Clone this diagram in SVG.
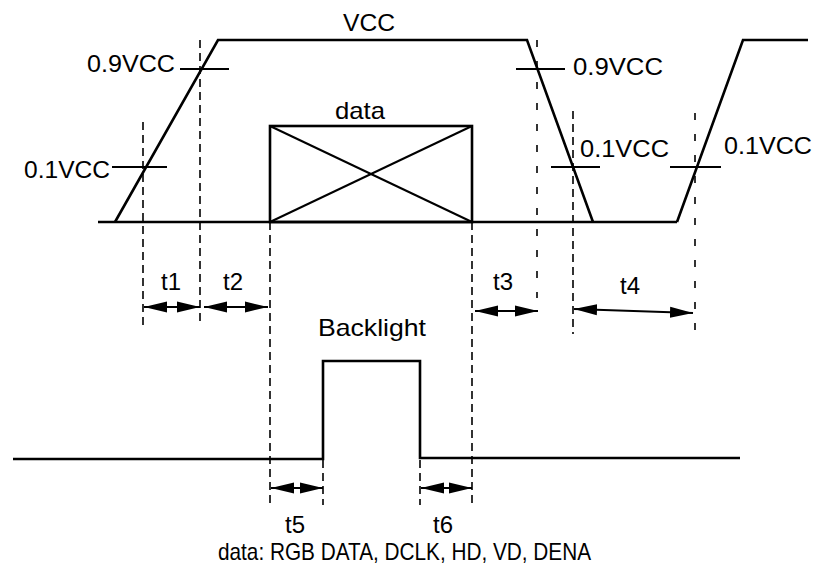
<svg xmlns="http://www.w3.org/2000/svg" width="815" height="574" viewBox="0 0 815 574">
<style>
.w{fill:none;stroke:#000;stroke-width:2.6;stroke-linejoin:miter}
.tk{fill:none;stroke:#000;stroke-width:2}
.d{fill:none;stroke:#000;stroke-width:1.6;stroke-dasharray:8,5}
.ds{fill:none;stroke:#000;stroke-width:1.6;stroke-dasharray:7,14}
.a{fill:none;stroke:#000;stroke-width:2;marker-start:url(#ah);marker-end:url(#ah)}
text{font-family:"Liberation Sans",Arial,sans-serif;font-size:24px;fill:#000}
.m{text-anchor:middle}
</style>
<defs>
<marker id="ah" markerUnits="userSpaceOnUse" markerWidth="24" markerHeight="12" refX="23" refY="5.5" orient="auto-start-reverse" viewBox="0 0 24 11">
<path d="M0,0 L23,5.5 L0,11 Z" fill="#000"/>
</marker>
</defs>
<rect width="815" height="574" fill="#fff"/>
<g id="guides">
<line class="d" x1="143" y1="122" x2="143" y2="329"/>
<line class="d" x1="200" y1="40" x2="200" y2="325"/>
<line class="d" x1="270" y1="222" x2="270" y2="505"/>
<line class="d" x1="472" y1="222" x2="472" y2="503"/>
<line class="ds" x1="537" y1="40" x2="537" y2="298"/>
<line class="d" x1="573" y1="111" x2="573" y2="334"/>
<line class="ds" x1="695" y1="113" x2="695" y2="340"/>
<line class="d" x1="323" y1="460" x2="323" y2="505"/>
<line class="d" x1="420" y1="460" x2="420" y2="505"/>
</g>
<g id="vcc-wave">
<line class="w" x1="98" y1="222" x2="677" y2="222"/>
<polyline class="w" points="115,222 218,40 527,40 593,222"/>
<polyline class="w" points="677,222 743,40 808,40"/>
<line class="tk" x1="180" y1="69" x2="229" y2="69"/>
<line class="tk" x1="112" y1="167" x2="167" y2="167"/>
<line class="tk" x1="516" y1="69" x2="565" y2="69"/>
<line class="tk" x1="551" y1="167" x2="600" y2="167"/>
<line class="tk" x1="670" y1="167" x2="721" y2="167"/>
</g>
<g id="data-box">
<rect class="w" x="270" y="126" width="202" height="96"/>
<line class="tk" x1="270" y1="126" x2="472" y2="222"/>
<line class="tk" x1="270" y1="222" x2="472" y2="126"/>
</g>
<g id="backlight-wave">
<polyline class="w" points="13,459 323,459 323,361 420,361 420,458 740,458"/>
</g>
<g id="connectors">
<line class="a" x1="144" y1="307" x2="200" y2="307"/>
<line class="a" x1="204" y1="307" x2="268" y2="307"/>
<line class="a" x1="475" y1="311" x2="538" y2="311"/>
<line class="a" x1="574" y1="309" x2="693" y2="313"/>
<line class="a" x1="271" y1="488" x2="323" y2="488"/>
<line class="a" x1="421" y1="488" x2="472" y2="488"/>
</g>
<g id="labels">
<text x="343" y="31" textLength="52" lengthAdjust="spacingAndGlyphs">VCC</text>
<text x="87" y="72" textLength="88" lengthAdjust="spacingAndGlyphs">0.9VCC</text>
<text x="24" y="178" textLength="86" lengthAdjust="spacingAndGlyphs">0.1VCC</text>
<text x="335" y="119" textLength="50" lengthAdjust="spacingAndGlyphs">data</text>
<text x="573" y="75" textLength="90" lengthAdjust="spacingAndGlyphs">0.9VCC</text>
<text x="580" y="157" textLength="89" lengthAdjust="spacingAndGlyphs">0.1VCC</text>
<text x="724" y="154" textLength="88" lengthAdjust="spacingAndGlyphs">0.1VCC</text>
<text class="m" x="171" y="290">t1</text>
<text class="m" x="233" y="290">t2</text>
<text class="m" x="503" y="290">t3</text>
<text class="m" x="630" y="294">t4</text>
<text x="318" y="336" textLength="108" lengthAdjust="spacingAndGlyphs">Backlight</text>
<text class="m" x="295" y="533">t5</text>
<text class="m" x="443" y="533">t6</text>
<text x="218" y="560" textLength="373" lengthAdjust="spacingAndGlyphs">data: RGB DATA, DCLK, HD, VD, DENA</text>
</g>
</svg>
